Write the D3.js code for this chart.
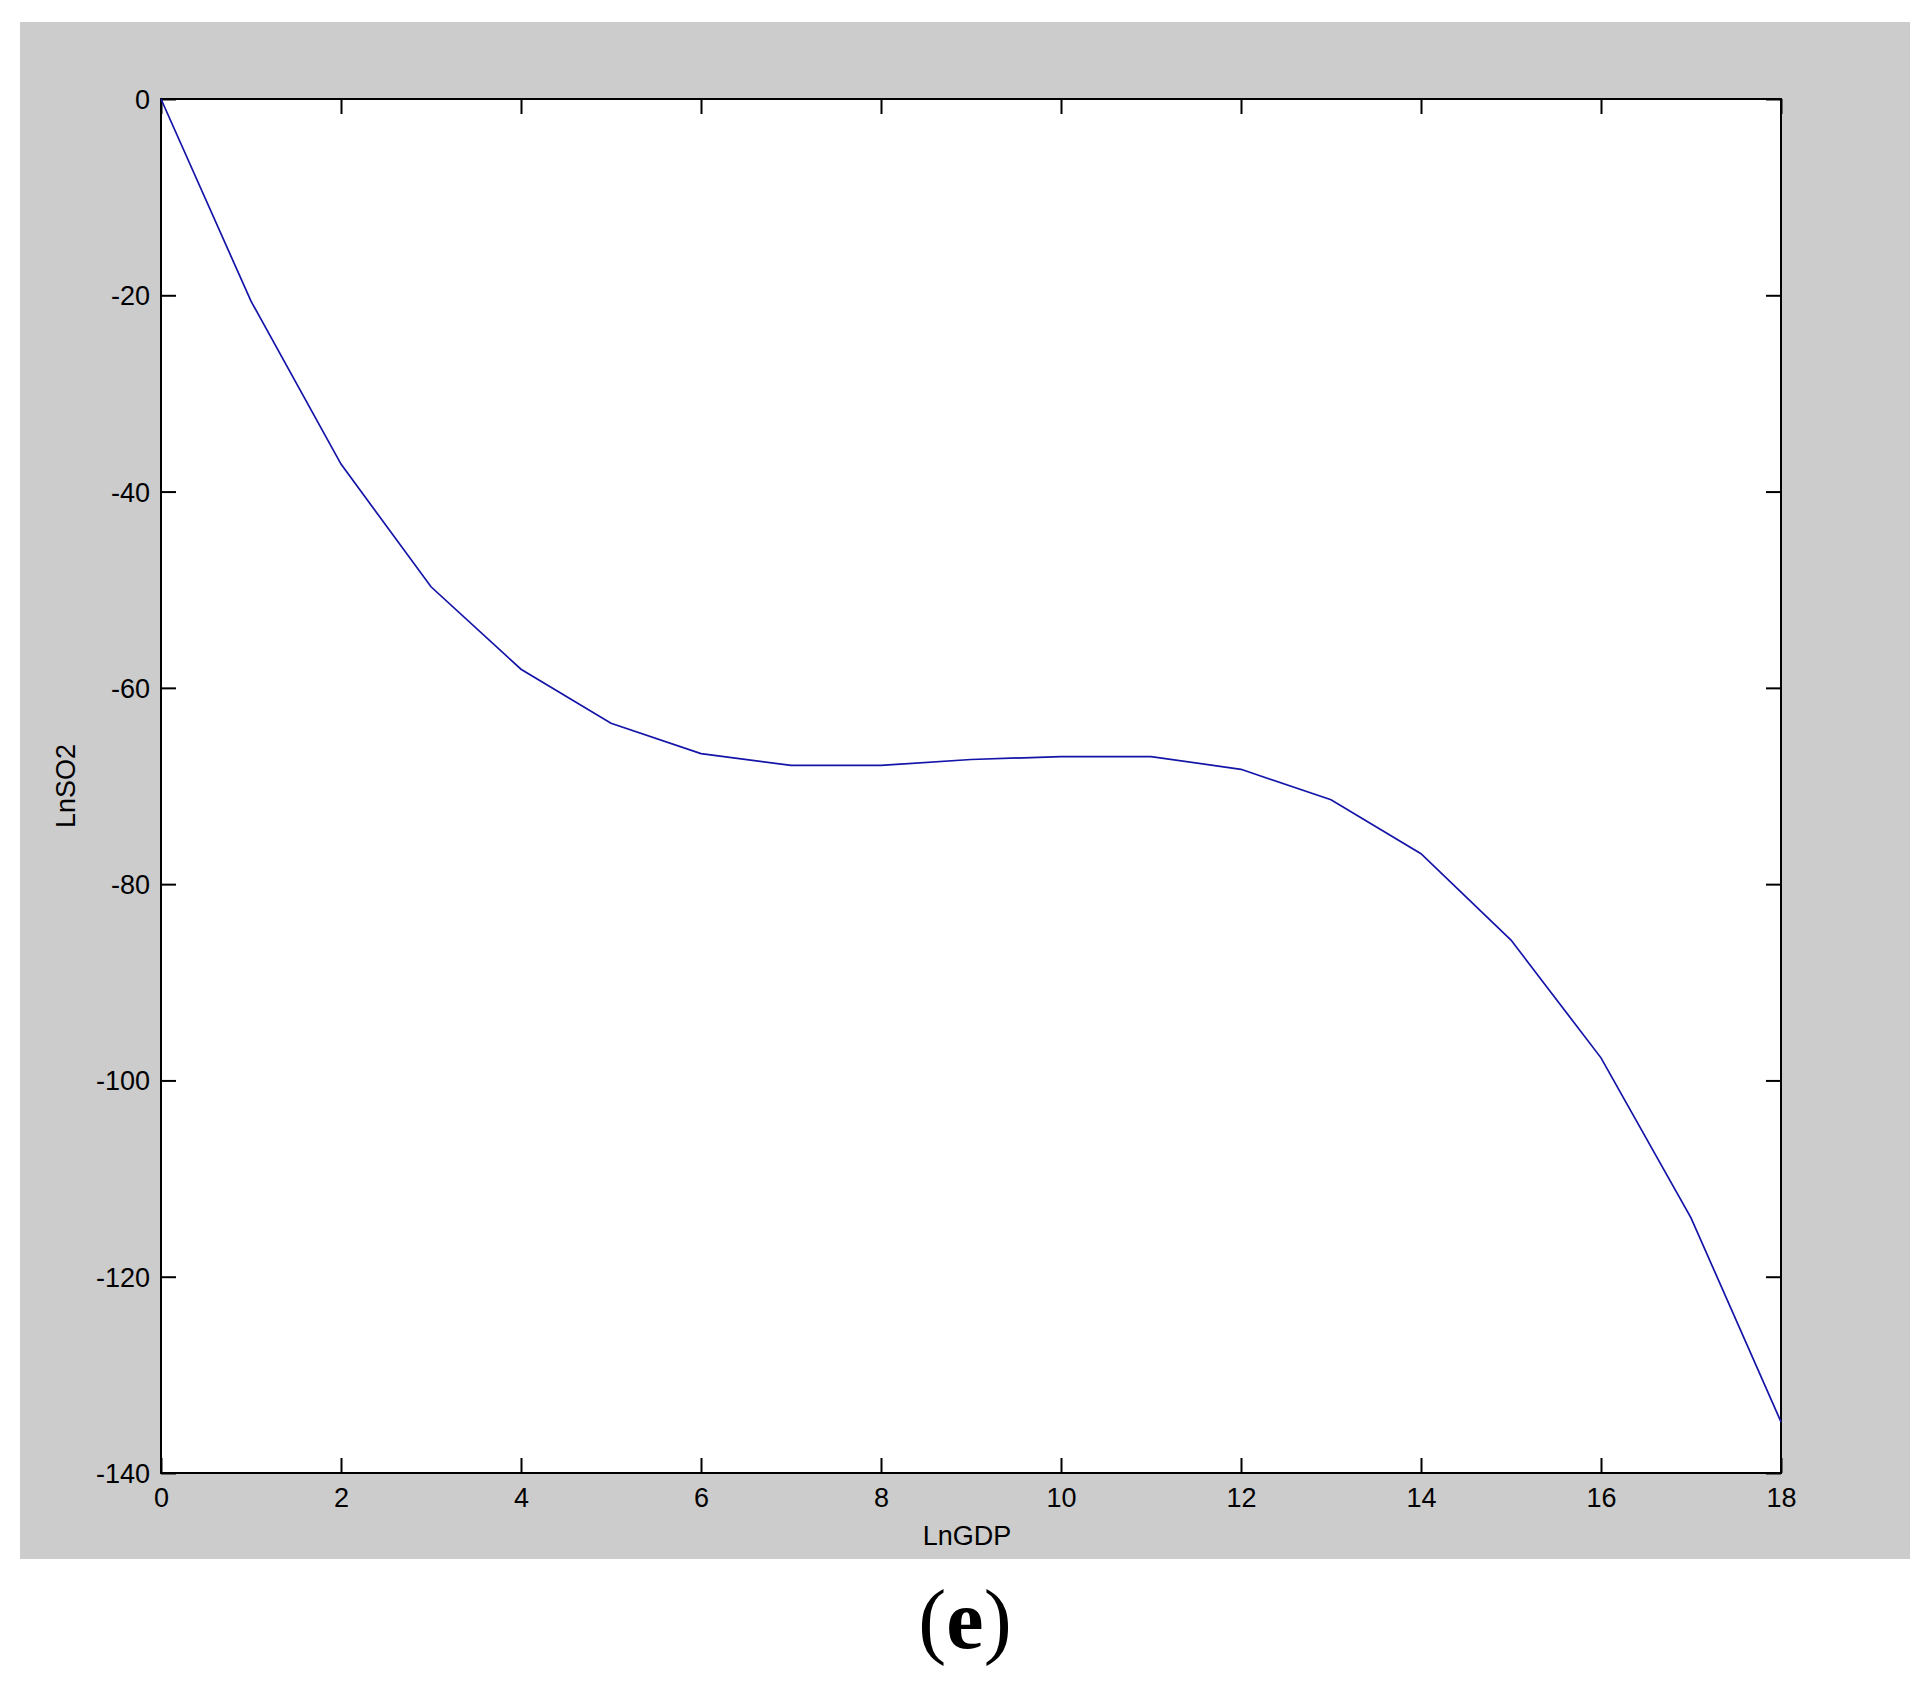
<!DOCTYPE html>
<html>
<head>
<meta charset="utf-8">
<script src="https://cdn.jsdelivr.net/npm/d3@7"></script>
<style>
  html, body { margin: 0; padding: 0; background: #ffffff; }
  svg { display: block; }
</style>
</head>
<body>
<script>
// Data
const lnGDP = [0, 1, 2, 3, 4, 5, 6, 7, 8, 9, 10, 11, 12, 13, 14, 15, 16, 17, 18];
const lnSO2 = [0, -20.6, -37.2, -49.7, -58.1, -63.6, -66.7, -67.9, -67.9, -67.3, -67.0, -67.0, -68.3, -71.4, -76.9, -85.7, -97.7, -114.0, -134.8];
const xTicks = [0, 2, 4, 6, 8, 10, 12, 14, 16, 18];
const yTicks = [0, -20, -40, -60, -80, -100, -120, -140];
const xLabel = "LnGDP";
const yLabel = "LnSO2";
const panelLabel = "e";

const W = 1926, H = 1688;
const plot = { left: 161, right: 1781, top: 99, bottom: 1473 };

const svg = d3.select("body").append("svg").attr("width", W).attr("height", H);

// gray figure background
svg.append("rect").attr("x", 20).attr("y", 22).attr("width", 1890).attr("height", 1537).attr("fill", "#cccccc");

// white axes area
svg.append("rect").attr("x", plot.left).attr("y", plot.top)
  .attr("width", plot.right - plot.left).attr("height", plot.bottom - plot.top).attr("fill", "#ffffff");

const x = d3.scaleLinear().domain([0, 18]).range([plot.left, plot.right]);
const y = d3.scaleLinear().domain([-140, 0]).range([plot.bottom, plot.top]);

const tickLen = 15;
const font = "'Liberation Sans', Arial, sans-serif";
const fmt = d => String(d); // plain hyphen-minus as in the reference

// Bottom axis (ticks inward)
const xAxisB = svg.append("g").attr("transform", `translate(0,${plot.bottom})`)
  .call(d3.axisBottom(x).tickValues(xTicks).tickSize(-tickLen).tickPadding(0).tickFormat(fmt));
xAxisB.select(".domain").remove();
xAxisB.selectAll("line").attr("stroke", "#000").attr("stroke-width", 2);
xAxisB.selectAll("text").attr("font-family", font).attr("font-size", 27).attr("fill", "#000")
  .attr("y", 34).attr("dy", 0);

// Top axis ticks (mirror)
const xAxisT = svg.append("g").attr("transform", `translate(0,${plot.top})`)
  .call(d3.axisTop(x).tickValues(xTicks).tickSize(-tickLen).tickFormat(""));
xAxisT.select(".domain").remove();
xAxisT.selectAll("line").attr("stroke", "#000").attr("stroke-width", 2);

// Left axis
const yAxisL = svg.append("g").attr("transform", `translate(${plot.left},0)`)
  .call(d3.axisLeft(y).tickValues(yTicks).tickSize(-tickLen).tickFormat(fmt));
yAxisL.select(".domain").remove();
yAxisL.selectAll("line").attr("stroke", "#000").attr("stroke-width", 2);
yAxisL.selectAll("text").attr("font-family", font).attr("font-size", 27).attr("fill", "#000")
  .attr("x", -11).attr("dy", "0.35em");

// Right axis ticks (mirror)
const yAxisR = svg.append("g").attr("transform", `translate(${plot.right},0)`)
  .call(d3.axisRight(y).tickValues(yTicks).tickSize(-tickLen).tickFormat(""));
yAxisR.select(".domain").remove();
yAxisR.selectAll("line").attr("stroke", "#000").attr("stroke-width", 2);

// Frame
svg.append("rect").attr("x", plot.left).attr("y", plot.top)
  .attr("width", plot.right - plot.left).attr("height", plot.bottom - plot.top)
  .attr("fill", "none").attr("stroke", "#000").attr("stroke-width", 2);

// Curve
const pts = lnGDP.map((d, i) => [d, lnSO2[i]]);
svg.append("path").datum(pts)
  .attr("d", d3.line().x(d => x(d[0])).y(d => y(d[1])))
  .attr("fill", "none").attr("stroke", "#1414a8").attr("stroke-width", 1.7);

// Axis labels
svg.append("text").attr("x", 967).attr("y", 1545).attr("text-anchor", "middle")
  .attr("font-family", font).attr("font-size", 27).attr("fill", "#000").text(xLabel);
svg.append("text").attr("transform", `translate(75,786) rotate(-90)`).attr("text-anchor", "middle")
  .attr("font-family", font).attr("font-size", 27).attr("fill", "#000").text(yLabel);

// Panel label (e)
const pl = svg.append("text").attr("x", 965).attr("y", 1648).attr("text-anchor", "middle")
  .attr("font-family", "'Liberation Serif', 'Times New Roman', serif").attr("font-size", 84).attr("fill", "#000");
pl.append("tspan").text("(");
pl.append("tspan").attr("font-weight", "bold").text(panelLabel);
pl.append("tspan").text(")");
</script>
</body>
</html>
